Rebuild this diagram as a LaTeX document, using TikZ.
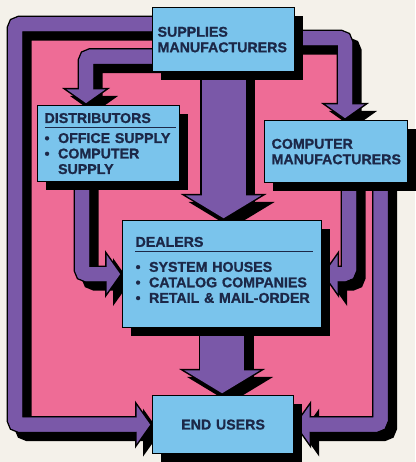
\documentclass[tikz,border=0pt]{standalone}
\usepackage{fontspec}
\setmainfont{Liberation Sans}[FakeBold=1]
\usetikzlibrary{arrows.meta,positioning,shadows}

\definecolor{paper}{RGB}{244,241,234}
\definecolor{flowpink}{RGB}{238,108,150}
\definecolor{flowpurple}{RGB}{122,88,168}
\definecolor{boxblue}{RGB}{122,196,236}
\definecolor{inkblue}{RGB}{28,40,72}

\pgfdeclarelayer{field}
\pgfdeclarelayer{flows}
\pgfsetlayers{field,flows,main}

\tikzset{
  box/.style={draw=black, line width=1.2pt, fill=boxblue, text=inkblue,
    anchor=north west, align=left, inner ysep=0pt,
    font=\fontsize{14.2}{15.5}\selectfont\bfseries,
    drop shadow={shadow xshift=8pt, shadow yshift=-8pt, opacity=1, fill=black}},
  rulebar/.style={draw=inkblue, line width=0.9pt},
  thinrim/.style={draw=black, line width=17pt, rounded corners=5pt,
    -{Triangle[width=48pt,length=17pt,line width=0pt]}},
  thinbody/.style={draw=flowpurple, line width=14pt, rounded corners=5pt,
    shorten >=1.84pt, -{Triangle[width=38.6pt,length=13.66pt,line width=0pt]},
    postaction={draw=flowpurple, -, shorten >=15pt}},
  widerim/.style={draw=black, line width=47pt,
    -{Triangle[width=86pt,length=26pt,line width=0pt]}},
  widebody/.style={draw=flowpurple, line width=44pt,
    shorten >=1.75pt, -{Triangle[width=75.25pt,length=22.75pt,line width=0pt]},
    postaction={draw=flowpurple, -, shorten >=24pt}}
}

% fat arrow: shadow, black rim, purple body
\newcommand\flow[2][thin]{%
  \draw[#1rim, transform canvas={shift={(8pt,-8pt)}}] #2;
  \draw[#1rim] #2;
  \draw[#1body] #2;
}
\newcommand\bul{\makebox[13.5pt][l]{\textbullet}}
\newcommand\indt{\hspace*{13.5pt}}

\begin{document}
\begin{tikzpicture}[x=1pt,y=1pt]
  \useasboundingbox (0,0) rectangle (415,462);

  % paper and pink field
  \begin{pgfonlayer}{field}
    \fill[paper] (0,0) rectangle (415,462);
    \fill[flowpink] (15,438.5) -- (223,438.5) -- (223,424.5) -- (345,424.5)
      -- (345,312) -- (380.5,312) -- (380.5,38) -- (15,38) -- cycle;
  \end{pgfonlayer}

  % boxes
  \node[box, inner xsep=5pt, text width=132pt, minimum width=142pt,
    minimum height=64pt] (supp) at (152,455) {SUPPLIES\\MANUFACTURERS};
  \node[box, inner xsep=7pt, text width=128pt, minimum width=142pt,
    minimum height=76pt] (dist) at (37,357)
    {DISTRIBUTORS\\[4.5pt]\bul \mbox{OFFICE SUPPLY}\\\bul COMPUTER\\\indt SUPPLY};
  \node[box, inner xsep=7pt, text width=129pt, minimum width=143pt,
    minimum height=62pt] (comp) at (264,342) {COMPUTER\\MANUFACTURERS};
  \node[box, inner xsep=13pt, text width=173pt, minimum width=199pt,
    minimum height=107pt] (deal) at (122,242)
    {DEALERS\\[9.5pt]\bul SYSTEM HOUSES\\\bul \mbox{CATALOG COMPANIES}\\\bul \mbox{RETAIL \& MAIL-ORDER}\\[-7pt]\mbox{}};
  \node[box, align=center, text width=131pt, minimum width=141pt,
    minimum height=58pt] (users) at (152,67) {END USERS};

  \draw[rulebar] ([xshift=8pt,yshift=-22pt]dist.north west) -- ([xshift=-4pt,yshift=-22pt]dist.north east);
  \draw[rulebar] ([xshift=13pt,yshift=-31pt]deal.north west) -- ([xshift=-9pt,yshift=-31pt]deal.north east);

  \coordinate (westrail) at (15,0);

  % flows
  \begin{pgfonlayer}{flows}
    \flow[wide]{([yshift=5pt]supp.south) -- (supp.south |- deal.north)}
    \flow[wide]{([yshift=5pt]deal.south) -- (deal.south |- users.north)}
    \flow{([xshift=5pt,yshift=-17pt]supp.west) -| ([xshift=49pt]dist.north west)}
    \flow{([xshift=-5pt,yshift=1.5pt]supp.east) -| ([xshift=81pt]comp.north west)}
    \flow{([xshift=45pt,yshift=5pt]dist.south west) |- (deal.west)}
    \flow{([xshift=85pt,yshift=5pt]comp.south west) |- (deal.east)}
    \flow{([xshift=116.5pt,yshift=5pt]comp.south west) |- (users.east)}
    \flow{([xshift=5pt,yshift=15.5pt]supp.west) -| (westrail |- users.west) -- (users.west)}
  \end{pgfonlayer}
\end{tikzpicture}
\end{document}
